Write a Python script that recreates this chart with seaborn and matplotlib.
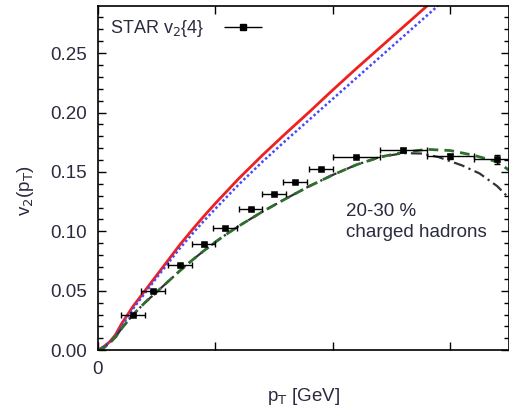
import numpy as np
import pandas as pd
import matplotlib
matplotlib.use("Agg")
import matplotlib.pyplot as plt
import seaborn as sns
from matplotlib.ticker import MultipleLocator, FixedLocator
from matplotlib.legend_handler import HandlerErrorbar

sns.set_theme(style="ticks")
plt.rcParams['font.family'] = ['Liberation Sans', 'DejaVu Sans']

# STAR v2{4} data, 20-30 % charged hadrons
star_pt = [0.30, 0.47, 0.70, 0.90, 1.08, 1.30, 1.50, 1.68, 1.90, 2.20, 2.60, 3.00, 3.40]
star_v2 = [0.0295, 0.0497, 0.0715, 0.089, 0.1024, 0.119, 0.1316, 0.1417, 0.1524, 0.1627, 0.1684, 0.1633, 0.1605]
star_xerr = [0.1, 0.1, 0.1, 0.1, 0.1, 0.1, 0.1, 0.1, 0.1, 0.2, 0.2, 0.2, 0.2]
star_yerr = [0.001, 0.001, 0.001, 0.001, 0.001, 0.001, 0.001, 0.001, 0.001, 0.001, 0.002, 0.002, 0.004]

# model curves
red_pt = [0, 0.05, 0.1, 0.15, 0.2, 0.3, 0.4, 0.5, 0.6, 0.7, 0.8, 0.9, 1.0, 1.2, 1.4, 1.6,
          1.8, 2.0, 2.2, 2.4, 2.6, 2.8, 3.0]
red_v2 = [0, 0.003, 0.007, 0.013, 0.022, 0.037, 0.050, 0.063, 0.076, 0.089, 0.101, 0.1125,
          0.1235, 0.1445, 0.164, 0.1825, 0.2005, 0.219, 0.237, 0.2545, 0.272, 0.2895, 0.307]
blue_pt = red_pt
blue_v2 = [0, 0.003, 0.007, 0.012, 0.020, 0.035, 0.048, 0.061, 0.0735, 0.086, 0.0975, 0.1085,
           0.119, 0.1395, 0.1585, 0.1765, 0.194, 0.2115, 0.229, 0.2465, 0.264, 0.2815, 0.299]
green_pt = [0, 0.05, 0.1, 0.15, 0.2, 0.3, 0.4, 0.5, 0.6, 0.7, 0.8, 0.9, 1.0, 1.1, 1.2, 1.4,
            1.6, 1.8, 2.0, 2.2, 2.4, 2.6, 2.8, 3.0, 3.2, 3.4, 3.5]
green_v2 = [0, 0.002, 0.006, 0.011, 0.018, 0.030, 0.040, 0.049, 0.058, 0.067, 0.0755, 0.0835,
            0.091, 0.098, 0.1045, 0.1165, 0.1275, 0.138, 0.1475, 0.156, 0.1625, 0.1665, 0.169,
            0.168, 0.164, 0.1585, 0.1515]
black_pt = [0, 0.05, 0.1, 0.15, 0.2, 0.3, 0.4, 0.5, 0.6, 0.7, 0.8, 0.9, 1.0, 1.1, 1.2, 1.4,
            1.6, 1.8, 2.0, 2.2, 2.4, 2.6, 2.75, 2.9, 3.0, 3.1, 3.25, 3.4, 3.5]
black_v2 = [0, 0.002, 0.006, 0.011, 0.018, 0.030, 0.040, 0.049, 0.058, 0.067, 0.0755, 0.0835,
            0.091, 0.098, 0.1045, 0.1165, 0.1275, 0.138, 0.1475, 0.156, 0.1625, 0.1658, 0.1655,
            0.1625, 0.159, 0.1555, 0.1487, 0.138, 0.128]

fig = plt.figure(figsize=(5.10, 4.11), dpi=100)
ax = fig.add_axes([0.192, 0.148, 0.806, 0.837])

sns.lineplot(x=red_pt, y=red_v2, ax=ax, color='#ee2020', lw=2.0, sort=False)
sns.lineplot(x=blue_pt, y=blue_v2, ax=ax, color='#4848ff', lw=1.8, linestyle=(0, (1, 1)), sort=False)
sns.lineplot(x=black_pt, y=black_v2, ax=ax, color='#333333', lw=1.6, linestyle=(0, (5, 2, 1, 2)), sort=False)
sns.lineplot(x=green_pt, y=green_v2, ax=ax, color='#2e6e2e', lw=2.0, linestyle=(0, (3.5, 2.2)), sort=False)

ax.errorbar(star_pt, star_v2, xerr=star_xerr, yerr=star_yerr, fmt='none',
            ecolor='black', elinewidth=1.0, capsize=2.5, capthick=1.0, zorder=5)
sns.scatterplot(x=star_pt, y=star_v2, ax=ax, marker='s', s=22, color='black',
                edgecolor='black', zorder=6)

# legend entry
h = ax.errorbar([], [], xerr=[], fmt='s', color='black', ms=4.5, elinewidth=1.0,
                capsize=2.5, capthick=1.0, label='STAR v$_2${4}')
leg = ax.legend(handles=[h], loc='upper left', frameon=False, markerfirst=False,
                handlelength=2.4, fontsize=13.0, borderaxespad=0.25,
                handletextpad=0.95, bbox_to_anchor=(0.0, 1.0),
                handler_map={type(h): HandlerErrorbar(xerr_size=1.05)})
for t in leg.get_texts():
    t.set_color('#2b2b40')

ax.text(0.603, 0.427, '20-30 %\ncharged hadrons', transform=ax.transAxes,
        fontsize=13.5, color='#2b2b40', va='top', ha='left', linespacing=1.3)

ax.set_xlim(0, 3.5)
ax.set_ylim(0, 0.2895)
ax.xaxis.set_major_locator(FixedLocator([0, 1, 2, 3]))
ax.set_xticklabels(['0', '', '', ''])
ax.yaxis.set_major_locator(MultipleLocator(0.05))
ax.yaxis.set_minor_locator(MultipleLocator(0.01))
ax.set_yticklabels([f'{v:.2f}' for v in ax.get_yticks()])
ax.tick_params(axis='both', which='both', direction='in', top=True, right=True,
               colors='black', labelcolor='#2b2b40', labelsize=13.5)
ax.tick_params(which='major', length=6, width=1.0)
ax.tick_params(which='minor', length=3.5, width=1.0)
ax.tick_params(axis='x', pad=8)
ax.tick_params(axis='y', pad=8)
for s in ax.spines.values():
    s.set_linewidth(1.2)
    s.set_color('black')

ax.set_xlabel('p$_\\mathrm{T}$ [GeV]', fontsize=13.5, color='#2b2b40')
ax.set_ylabel('v$_2$(p$_\\mathrm{T}$)', fontsize=13.5, color='#2b2b40')
ax.yaxis.set_label_coords(-0.151, 0.465)
ax.xaxis.set_label_coords(0.5, -0.105)

fig.savefig('out.png', dpi=100)
